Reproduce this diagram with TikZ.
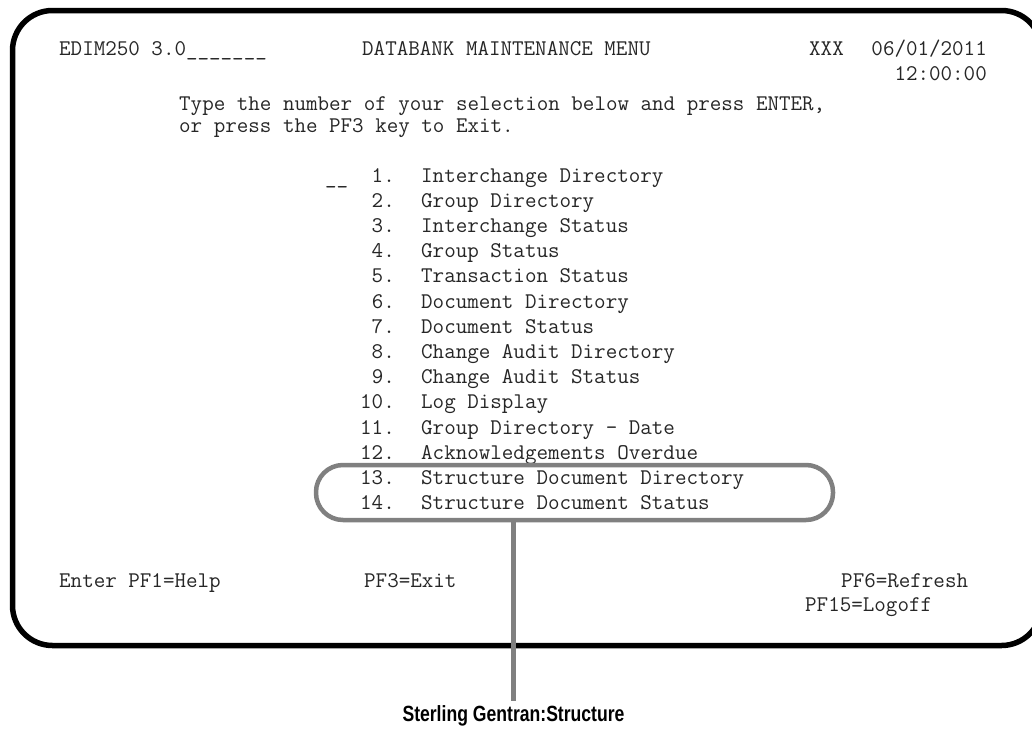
\documentclass[tikz,border=0pt]{standalone}
\usepackage{fontspec}
\setsansfont{Liberation Sans}
\begin{document}
\begin{tikzpicture}[x=1pt,y=-1pt,
  scr/.style={font=\fontsize{22.4}{25}\selectfont\ttfamily, text=black!85,
              inner sep=0pt, anchor=base west},
  scrR/.style={scr, anchor=base east},
  frame/.style={draw=black, line width=5.5pt, rounded corners=40pt,
                inner sep=0pt, minimum width=1029pt, minimum height=635pt},
  hilite/.style={draw=black!50, line width=4.5pt, rounded corners=27pt,
                 inner sep=0pt, minimum width=517pt, minimum height=55pt},
  callout/.style={draw=black!50, line width=4.5pt},
  caption/.style={font=\fontsize{22}{26}\selectfont\sffamily\bfseries,
                  inner xsep=0pt, inner ysep=4pt, anchor=base}
]
\fill[white] (0,0) rectangle (1032,728);
\useasboundingbox (0,0) rectangle (1032,728);

% terminal screen outline (its right side runs past the page edge)
\node[frame] (screen) at (527,328) {};

% header
\node[scr]  (hdrid)   at (59,55)   {EDIM250 3.0\_\_\_\_\_\_\_};
\node[scr]  (hdrttl)  at (362,55)  {DATABANK MAINTENANCE MENU};
\node[scr]  (hdrusr)  at (809,55)  {XXX};
\node[scrR] (hdrdate) at (987,55)  {06/01/2011};
\node[scrR] (hdrtime) at (987,80)  {12:00:00};

% instructions
\node[scr] (instr1) at (179,110) {Type the number of your selection below and press ENTER,};
\node[scr] (instr2) at (179,132) {or press the PF3 key to Exit.};

% selection field
\node[scr] (field) at (325,183) {\_\_};

% menu entries
\foreach \n/\t [count=\k from 0] in {
  1/Interchange Directory,
  2/Group Directory,
  3/Interchange Status,
  4/Group Status,
  5/Transaction Status,
  6/Document Directory,
  7/Document Status,
  8/Change Audit Directory,
  9/Change Audit Status,
  10/Log Display,
  11/Group Directory - Date,
  12/Acknowledgements Overdue,
  13/Structure Document Directory,
  14/Structure Document Status}
{
  \node[scrR] (num\n) at (395,182+\k*25.2) {\n.};
  \node[scr]  (opt\n) at (421,182+\k*25.2) {\t};
}

% function keys
\node[scr] (pf1)  at (59,587)  {Enter PF1=Help};
\node[scr] (pf3)  at (364,587) {PF3=Exit};
\node[scr] (pf6)  at (841,587) {PF6=Refresh};
\node[scr] (pf15) at (805,611) {PF15=Logoff};

% highlighted entries and their caption
\node[hilite] (hl) at (574.5,492.5) {};
\node[caption] (lbl) at (513.5,721) {\scalebox{0.8}[1]{Sterling Gentran:Structure}};
\draw[callout] (lbl.north |- hl.south) -- (lbl.north);
\end{tikzpicture}
\end{document}
